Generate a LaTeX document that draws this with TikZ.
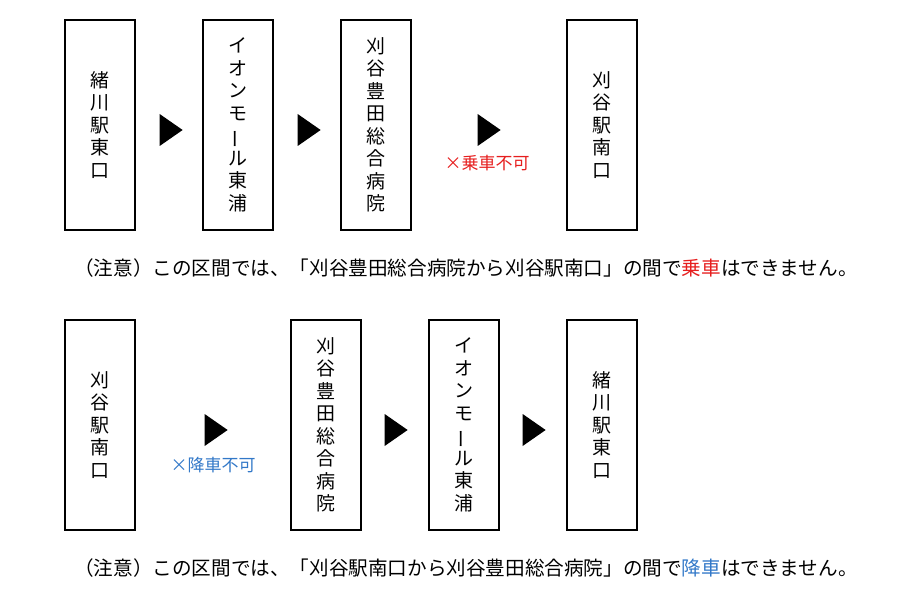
\documentclass[tikz,border=0pt]{standalone}
\usepackage{fontspec}
\newfontfamily\jp{Noto Sans CJK JP}
\usetikzlibrary{shapes.geometric}
\definecolor{ngred}{RGB}{230,30,30}
\definecolor{okblue}{RGB}{50,120,200}
\newcommand{\cho}{\rotatebox[origin=c]{90}{ー}}
\begin{document}
\begin{tikzpicture}[x=1pt,y=-1pt,
    stop/.style={draw, line width=1.2pt, minimum width=70pt, minimum height=210pt,
        align=center, inner sep=0pt, font=\jp\fontsize{19}{22.5}\selectfont},
    tri/.style={isosceles triangle, isosceles triangle stretches, fill=black,
        minimum width=32pt, minimum height=23pt, inner sep=0pt},
    note/.style={font=\jp\fontsize{19.6}{22}\selectfont, anchor=west, inner sep=0pt},
    ng/.style={font=\jp\fontsize{17}{20}\selectfont, text=#1, inner sep=0pt}
]
\useasboundingbox (0,0) rectangle (899,596);

% Upper row
\node[stop] (s1) at (100,125) {緒\\川\\駅\\東\\口};
\node[stop] (s2) at (238,125) {イ\\オ\\ン\\モ\\\cho\\ル\\東\\浦};
\node[stop] (s3) at (376,125) {刈\\谷\\豊\\田\\総\\合\\病\\院};
\node[stop] (s4) at (602,125) {刈\\谷\\駅\\南\\口};
\node[tri] (t1) at (168,130) {};
\node[tri] (t2) at (306,130) {};
\node[tri] (t3) at (486,130) {};
\node[ng=ngred] (ride) at (487,163) {×乗車不可};
\node[note] (n1) at (74,268) {（注意）この区間では、「刈谷豊田総合病院から刈谷駅南口」の間で\textcolor{ngred}{乗車}はできません。};

% Lower row
\node[stop] (b1) at (100,425) {刈\\谷\\駅\\南\\口};
\node[stop] (b2) at (326,425) {刈\\谷\\豊\\田\\総\\合\\病\\院};
\node[stop] (b3) at (464,425) {イ\\オ\\ン\\モ\\\cho\\ル\\東\\浦};
\node[stop] (b4) at (602,425) {緒\\川\\駅\\東\\口};
\node[tri] (u1) at (213,430) {};
\node[tri] (u2) at (393,430) {};
\node[tri] (u3) at (531,430) {};
\node[ng=okblue] (drop) at (213,465) {×降車不可};
\node[note] (n2) at (74,568) {（注意）この区間では、「刈谷駅南口から刈谷豊田総合病院」の間で\textcolor{okblue}{降車}はできません。};
\end{tikzpicture}
\end{document}
